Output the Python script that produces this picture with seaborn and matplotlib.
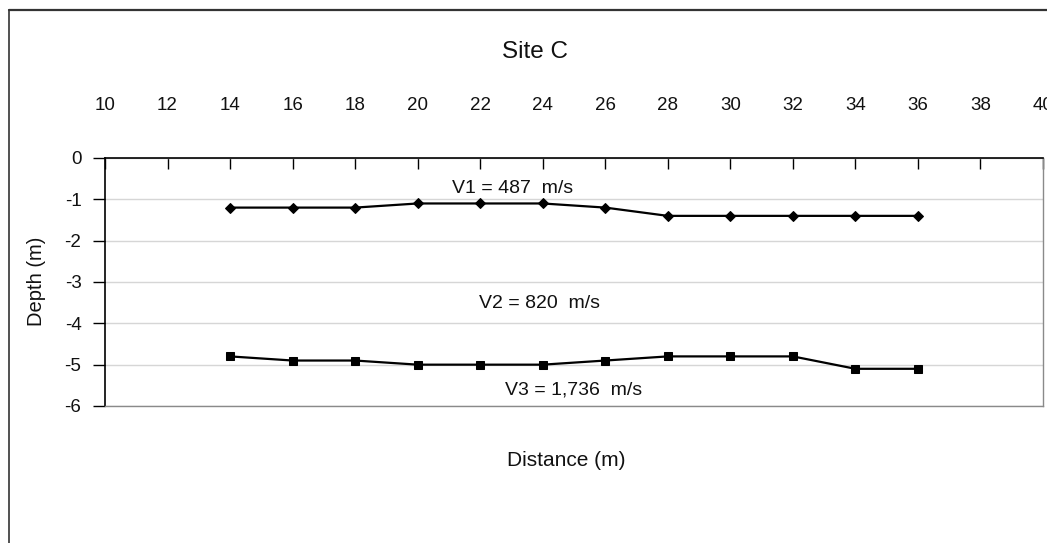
import matplotlib
matplotlib.use("Agg")
import matplotlib.pyplot as plt
from matplotlib.lines import Line2D
import pandas as pd
import seaborn as sns

# Refraction survey, Site C: interface depths along the profile
distance = [14, 16, 18, 20, 22, 24, 26, 28, 30, 32, 34, 36]
depth_layer1_base = [-1.2, -1.2, -1.2, -1.1, -1.1, -1.1, -1.2, -1.4, -1.4, -1.4, -1.4, -1.4]
depth_layer2_base = [-4.8, -4.9, -4.9, -5.0, -5.0, -5.0, -4.9, -4.8, -4.8, -4.8, -5.1, -5.1]
velocity_labels = ["V1 = 487  m/s", "V2 = 820  m/s", "V3 = 1,736  m/s"]
x_ticks = list(range(10, 41, 2))
y_ticks = [0, -1, -2, -3, -4, -5, -6]

df1 = pd.DataFrame({"Distance": distance, "Depth": depth_layer1_base})
df2 = pd.DataFrame({"Distance": distance, "Depth": depth_layer2_base})

sns.set_style("white")
plt.rcParams["font.family"] = ["Liberation Sans", "DejaVu Sans"]
plt.rcParams["text.color"] = "#111111"
plt.rcParams["axes.unicode_minus"] = False

W, H = 1047, 543
fig = plt.figure(figsize=(W / 100, H / 100), dpi=100)
ax = fig.add_axes([105 / W, 1 - 406 / H, (1043 - 105) / W, (406 - 158) / H])

sns.lineplot(data=df1, x="Distance", y="Depth", ax=ax, color="black", linewidth=1.6,
             marker="D", markersize=5.5, markeredgecolor="black", markerfacecolor="black")
sns.lineplot(data=df2, x="Distance", y="Depth", ax=ax, color="black", linewidth=1.6,
             marker="s", markersize=6, markeredgecolor="black", markerfacecolor="black")

ax.set_xlim(10, 40)
ax.set_ylim(-6, 0)
ax.set_xticks(x_ticks)
ax.set_yticks(y_ticks)
ax.set_xlabel("")
ax.set_ylabel("")

ax.xaxis.tick_top()
ax.tick_params(axis="x", direction="in", length=8, width=1, color="black",
               pad=32, labelsize=13.5, labelcolor="#111111", top=True, bottom=False)
ax.tick_params(axis="y", direction="out", length=9, width=1, color="black",
               pad=8, labelsize=13.5, labelcolor="#111111", left=True)

ax.yaxis.grid(True, color="#d6d6d6", linewidth=1.0)
ax.xaxis.grid(False)
ax.set_axisbelow(True)

ax.spines["top"].set_color("black")
ax.spines["top"].set_linewidth(1.2)
ax.spines["left"].set_color("black")
ax.spines["left"].set_linewidth(1.2)
ax.spines["right"].set_color("#8a8a8a")
ax.spines["bottom"].set_color("#8a8a8a")
ax.spines["right"].set_linewidth(1.0)
ax.spines["bottom"].set_linewidth(1.0)

# Velocity annotations for each layer
label_pos = [(23.05, -0.75), (23.9, -3.51), (25.0, -5.61)]
for (lx, ly), txt in zip(label_pos, velocity_labels):
    ax.text(lx, ly, txt, ha="center", va="center", fontsize=14)

fig.text(535 / W, 1 - 52 / H, "Site C", ha="center", va="center", fontsize=17.5)
fig.text(566 / W, 1 - 460 / H, "Distance (m)", ha="center", va="center", fontsize=15)
fig.text(37 / W, 1 - 281 / H, "Depth (m)", ha="center", va="center",
         rotation=90, fontsize=14.5)

# Chart-area frame
fig.add_artist(Line2D([8.5 / W, 8.5 / W], [0, 1 - 10 / H], transform=fig.transFigure,
                      color="#333333", linewidth=1.2))
fig.add_artist(Line2D([8.5 / W, 1], [1 - 10 / H, 1 - 10 / H], transform=fig.transFigure,
                      color="#333333", linewidth=1.6))

fig.savefig("out.png", dpi=100, facecolor="white")
